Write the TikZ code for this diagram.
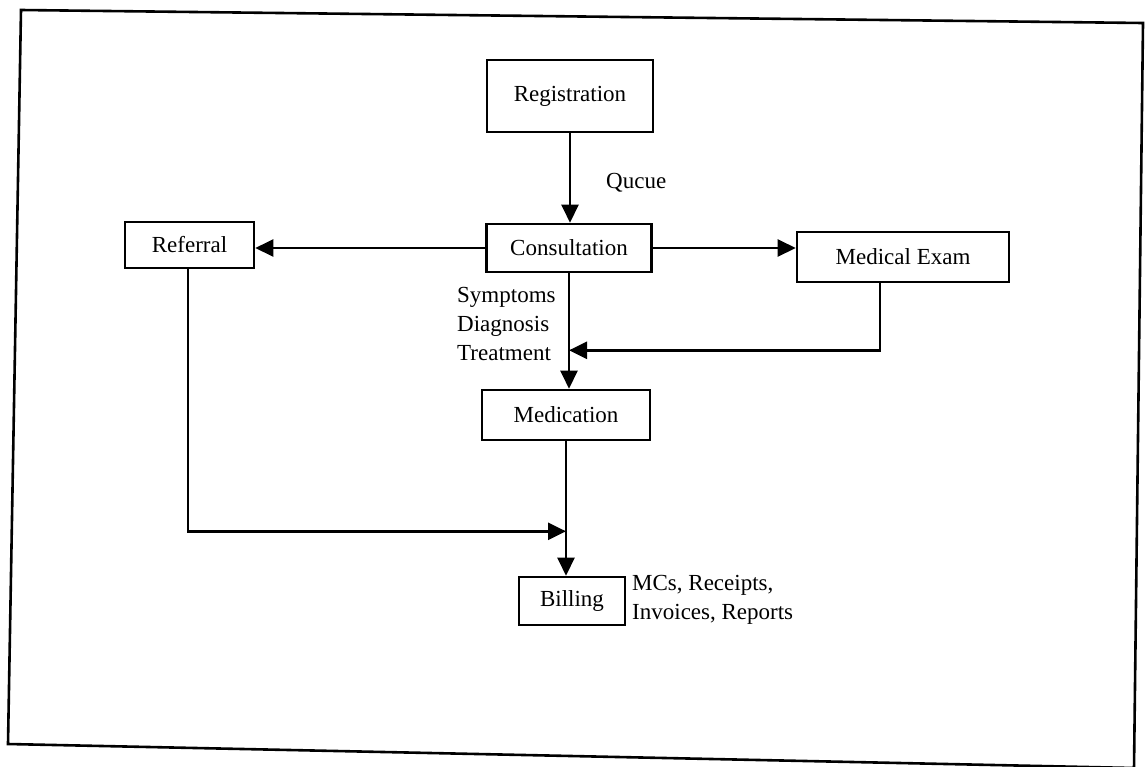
\documentclass[tikz,border=0pt]{standalone}
\usepackage{fontspec}
\setmainfont{Liberation Serif}
\usetikzlibrary{arrows.meta,calc}
\tikzset{
  box/.style={draw, line width=2.6pt, inner sep=0pt, font=\fontsize{23}{28}\selectfont},
  lbl/.style={inner sep=0pt, font=\fontsize{23}{29}\selectfont, align=left},
  arr/.style={line width=2.4pt, -{Triangle[length=18pt,width=17pt]}},
  frame/.style={line width=2.6pt}
}
\begin{document}
\begin{tikzpicture}[x=1pt,y=-1pt]
\useasboundingbox (0,0) rectangle (1145,766);
% outer frame (slightly rotated scan)
\draw[frame] (21,10) -- (1143,23) -- (1134,768) -- (8,744) -- cycle;

\node[box, minimum width=166pt, minimum height=72pt] (reg) at (570,96) {Registration};
\node[box, minimum width=165pt, minimum height=48pt] (cons) at (569,248) {Consultation};
\node[box, minimum width=129pt, minimum height=46pt] (ref) at (189.5,245) {Referral};
\node[box, minimum width=212pt, minimum height=50pt] (med) at (903,257) {Medical Exam};
\node[box, minimum width=168pt, minimum height=50pt] (medic) at (566,415) {Medication};
\node[box, minimum width=106pt, minimum height=48pt] (bill) at (572,601) {Billing};

\coordinate (j1) at ($(cons.south)+(0,77)$);
\coordinate (j2) at ($(medic.south)+(0,90)$);

\draw[arr] (reg.south) -- (reg.south |- cons.north);
\draw[arr] (cons.west) -- (cons.west -| ref.east);
\draw[arr] (cons.east) -- (cons.east -| med.west);
\draw[arr] (cons.south) -- (cons.south |- medic.north);
\draw[arr] ([xshift=-23pt]med.south) |- (j1);
\draw[arr] (medic.south) -- (medic.south |- bill.north);
\draw[arr] ([xshift=-1.5pt]ref.south) |- (j2);

\node[lbl, anchor=west] (q) at (606,183) {Qucue};
\node[lbl, anchor=north west] (sdt) at (457,287) {Symptoms\\Diagnosis\\Treatment};
\node[lbl, anchor=north west] (mcs) at (632,575) {MCs, Receipts,\\Invoices, Reports};
\end{tikzpicture}
\end{document}
